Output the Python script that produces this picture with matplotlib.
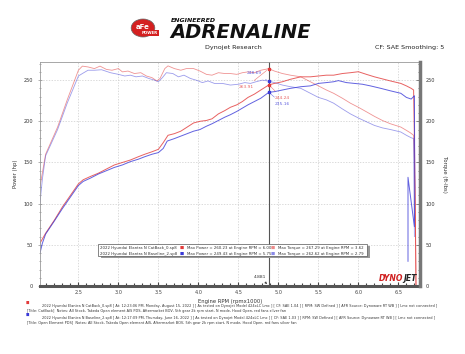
import matplotlib
matplotlib.use("Agg")
import matplotlib.pyplot as plt
from matplotlib.patches import Rectangle, Circle
from matplotlib.ticker import MultipleLocator

# ---- dados (rpm x1000) ----
rpm_tq_red = [2.02, 2.09, 2.24, 2.36, 2.5, 2.55, 2.62, 2.7, 2.77, 2.85, 2.92, 3.0, 3.05, 3.12, 3.2,
              3.28, 3.35, 3.42, 3.48, 3.52, 3.58, 3.62, 3.7, 3.78, 3.85, 3.94, 4.02, 4.1, 4.17,
              4.25, 4.33, 4.4, 4.48, 4.55, 4.62, 4.7, 4.78, 4.881, 4.95, 5.05, 5.15, 5.28, 5.4,
              5.5, 5.6, 5.69, 5.8, 5.9, 6.0, 6.11, 6.2, 6.3, 6.4, 6.53, 6.6, 6.65, 6.69, 6.7,
              6.71, 6.72]
tq_red = [121, 160, 193, 226, 262, 267, 266, 264, 267, 263, 262, 264, 260, 261, 258,
          259, 255, 253, 249, 252, 264, 267.3, 264, 262, 264, 264, 261, 257, 256,
          259, 258, 258, 257, 259, 260, 259, 262, 263.9, 261, 258, 256, 254, 248,
          243, 238, 234, 228, 222, 217, 211, 206, 201, 197, 193, 189, 186, 183, 150,
          100, 0]

rpm_tq_blue = [2.02, 2.05, 2.09, 2.24, 2.36, 2.5, 2.55, 2.62, 2.7, 2.79, 2.9, 3.0, 3.08, 3.15, 3.22,
               3.3, 3.38, 3.45, 3.5, 3.55, 3.6, 3.68, 3.75, 3.82, 3.9, 3.97, 4.05, 4.12, 4.2,
               4.3, 4.4, 4.5, 4.58, 4.65, 4.72, 4.8, 4.881, 4.95, 5.05, 5.15, 5.28, 5.4, 5.5,
               5.6, 5.69, 5.8, 5.9, 6.0, 6.11, 6.2, 6.3, 6.4, 6.53, 6.6, 6.66, 6.69, 6.695,
               6.7]
tq_blue = [101, 130, 158, 190, 222, 255, 258, 262, 262, 262.6, 259, 257, 255, 256, 254,
           255, 252, 250, 248, 253, 259, 258, 254, 256, 252, 250, 247, 249, 246,
           246, 244, 245, 247, 246, 248, 250, 248.7, 247, 244, 242, 240, 234, 229,
           226, 222, 215, 209, 204, 199, 195, 192, 190, 187, 183, 180, 179, 120,
           60]

rpm_hp_red = [2.02, 2.09, 2.2, 2.3, 2.4, 2.5, 2.56, 2.65, 2.75, 2.85, 2.95, 3.05, 3.15, 3.25, 3.33,
              3.42, 3.5, 3.56, 3.62, 3.7, 3.78, 3.86, 3.94, 4.02, 4.1, 4.17, 4.25, 4.33, 4.4,
              4.48, 4.55, 4.62, 4.7, 4.78, 4.881, 4.95, 5.05, 5.15, 5.28, 5.4, 5.5, 5.6, 5.69,
              5.8, 5.9, 6.0, 6.1, 6.2, 6.28, 6.4, 6.53, 6.6, 6.66, 6.69, 6.7, 6.71, 6.715, 6.72]
hp_red = [52, 64, 80, 96, 110, 124, 129, 133, 137, 142, 147, 150, 153, 157, 160,
          163, 166, 174, 183, 185, 188, 193, 198, 200, 201, 203, 209, 213, 217,
          220, 224, 229, 233, 238, 244.2, 246, 248, 251, 254, 254, 255, 256, 256,
          258, 259, 260.2, 257, 254, 252, 249, 246, 243, 240, 238, 180, 100, 56, 0]

rpm_hp_blue = [2.02, 2.05, 2.09, 2.2, 2.3, 2.4, 2.5, 2.56, 2.65, 2.75, 2.85, 2.95, 3.05, 3.15, 3.25,
               3.33, 3.42, 3.5, 3.56, 3.61, 3.7, 3.78, 3.86, 3.94, 4.02, 4.1, 4.17, 4.25, 4.33,
               4.4, 4.48, 4.55, 4.62, 4.7, 4.78, 4.881, 4.95, 5.05, 5.15, 5.28, 5.4, 5.5, 5.6,
               5.69, 5.75, 5.85, 5.95, 6.05, 6.15, 6.28, 6.4, 6.53, 6.6, 6.66, 6.69, 6.7,
               6.705, 6.7, 6.62, 6.62]
hp_blue = [40, 52, 63, 79, 94, 108, 122, 127, 131, 136, 140, 144, 147, 151, 154,
           157, 160, 162, 167, 176, 179, 182, 185, 188, 190, 194, 197, 201, 205,
           208, 212, 216, 220, 224, 228, 235.2, 236, 238, 240, 242, 243, 246, 247,
           248, 249.4, 247, 246, 245, 243, 240, 237, 234, 229, 227, 230, 231,
           120, 72, 132, 30]

cursor_rpm = 4.881
xticks = [2.5, 3.0, 3.5, 4.0, 4.5, 5.0, 5.5, 6.0, 6.5]
yticks = [0, 50, 100, 150, 200, 250]

runs = ["2022 Hyundai Elantra N CatBack_0.sp8", "2022 Hyundai Elantra N Baseline_2.sp8"]
max_power = ["Max Power = 260.23 at Engine RPM = 6.00", "Max Power = 249.43 at Engine RPM = 5.75"]
max_torque = ["Max Torque = 267.29 at Engine RPM = 3.62", "Max Torque = 262.62 at Engine RPM = 2.79"]
rodape = [
    "2022 Hyundai Elantra N CatBack_0.sp8 [ At: 12:23:06 PM, Monday, August 15, 2022 ] [ As tested on Dynojet Model 424xLC Lmc ] [ CF: SAE 1.04 ] [ RPM: SW Defined ] [ AFR Source: Dynoware RT WB ] [ Lmc not connected ]",
    "[Title: CatBack]  Notes: All Stock, Takeda Open element AIS PDS, Aftermarket BOV, 5th gear 2k rpm start, N mode, Hood Open, red fans silver fan",
    "2022 Hyundai Elantra N Baseline_2.sp8 [ At: 12:17:09 PM, Thursday, June 16, 2022 ] [ As tested on Dynojet Model 424xLC Lmc ] [ CF: SAE 1.03 ] [ RPM: SW Defined ] [ AFR Source: Dynoware RT WB ] [ Lmc not connected ]",
    "[Title: Open Element PDS]  Notes: All Stock, Takeda Open element AIS, Aftermarket BOV, 5th gear 2k rpm start, N mode, Hood Open, red fans silver fan",
]

W, H = 465, 354
vermelho = "#e23a3a"
azul = "#3a3ad8"

fig = plt.figure(figsize=(W / 100, H / 100), dpi=100)
fig.patch.set_facecolor("white")


def fx(px):
    return px / W


def fy(py):
    return 1 - py / H


L, R, T, B = 40, 420, 62, 286
ax = fig.add_axes([fx(L), fy(B), fx(R - L), (B - T) / H])
ax.set_xlim(2.02, 6.77)
ax.set_ylim(0, 272)

ax.plot(rpm_tq_red, tq_red, color=vermelho, lw=0.6, alpha=0.55)
ax.plot(rpm_tq_blue, tq_blue, color=azul, lw=0.6, alpha=0.5)
ax.plot(rpm_hp_red, hp_red, color=vermelho, lw=0.7, alpha=0.8)
ax.plot(rpm_hp_blue, hp_blue, color=azul, lw=0.7, alpha=0.8)

ax.axvline(cursor_rpm, color="#555555", lw=0.8)

# marcadores do cursor
cur = [(tq_blue[rpm_tq_blue.index(cursor_rpm)], azul, "248.69", (-16, 5)),
       (tq_red[rpm_tq_red.index(cursor_rpm)], vermelho, "263.91", (-22, -14)),
       (hp_red[rpm_hp_red.index(cursor_rpm)], vermelho, "244.24", (4, -10)),
       (hp_blue[rpm_hp_blue.index(cursor_rpm)], azul, "235.16", (4, -9))]
for val, cor, txt, off in cur:
    ax.plot([cursor_rpm], [val], marker="s", ms=1.8, color=cor, mec=cor)
    ax.annotate(txt, xy=(cursor_rpm, val), xytext=off, textcoords="offset points",
                fontsize=3.2, color=cor, alpha=0.8,
                arrowprops=dict(arrowstyle="-", color=cor, lw=0.4, alpha=0.7))

ax.annotate("4.881", xy=(cursor_rpm, 0), xytext=(-11, 6), textcoords="offset points",
            fontsize=3.2, color="#333333",
            arrowprops=dict(arrowstyle="-|>", color="#333333", lw=0.4, mutation_scale=3))

ax.set_xticks(xticks)
ax.set_xticklabels([f"{t:.1f}" for t in xticks])
ax.xaxis.set_minor_locator(MultipleLocator(0.1))
ax.set_yticks(yticks)
ax.yaxis.set_minor_locator(MultipleLocator(10))
ax.grid(True, which="major", color="#cccccc", ls=(0, (2, 2)), lw=0.5)
ax.tick_params(axis="x", which="both", direction="in", colors="#444444", labelsize=3.6,
               length=3, width=0.8, pad=3)
ax.tick_params(axis="x", which="minor", length=2)
ax.tick_params(axis="y", which="both", direction="inout", colors="#777777", labelsize=3.6,
               labelcolor="#333333", length=3, width=0.4)
ax.tick_params(axis="y", which="minor", length=1.5)
for s in ["top", "left"]:
    ax.spines[s].set_color("#999999")
    ax.spines[s].set_linewidth(0.6)
ax.spines["bottom"].set_color("#555555")
ax.spines["bottom"].set_linewidth(2.2)
ax.spines["right"].set_visible(False)

ax2 = ax.twinx()
ax2.set_ylim(0, 272)
ax2.set_yticks(yticks)
ax2.yaxis.set_minor_locator(MultipleLocator(10))
ax2.tick_params(axis="y", which="both", direction="in", colors="#555555", labelsize=3.6,
                labelcolor="#333333", length=3, width=0.5, pad=4)
ax2.tick_params(axis="y", which="minor", length=1.5)
ax2.spines["right"].set_color("#777777")
ax2.spines["right"].set_linewidth(2.5)
for s in ["top", "left", "bottom"]:
    ax2.spines[s].set_visible(False)

ax.set_xlabel("Engine RPM (rpmx1000)", fontsize=3.8, color="#333333", labelpad=3)
ax.set_ylabel("Power (hp)", fontsize=3.8, color="#333333", labelpad=4)
ax2.set_ylabel("Torque (ft-lbs)", fontsize=3.8, color="#333333", labelpad=5, rotation=-90,
               va="bottom")

# logo dynojet
ax.text(0.955, 0.012, "DYNO", transform=ax.transAxes, ha="right", va="bottom",
        fontsize=5.6, fontweight="bold", style="italic", color="#d02020")
ax.text(0.955, 0.012, "JET", transform=ax.transAxes, ha="left", va="bottom",
        fontsize=5.6, fontweight="bold", style="italic", color="#222222")

# caixa de legenda
fig.add_artist(Rectangle((fx(101), fy(258)), fx(269), 12 / H, transform=fig.transFigure,
                         facecolor="#999999", edgecolor="none"))
fig.add_artist(Rectangle((fx(98), fy(256)), fx(269), 12 / H, transform=fig.transFigure,
                         facecolor="white", edgecolor="#555555", lw=0.5))
for i, (cor, y) in enumerate([(vermelho, 247.5), (azul, 253.5)]):
    fig.text(fx(100), fy(y), runs[i], fontsize=2.8, va="center", color="#333333")
    fig.text(fx(180), fy(y), "\u25a0", fontsize=3.2, va="center", color=cor)
    fig.text(fx(187), fy(y), max_power[i], fontsize=2.8, va="center", color="#333333")
    fig.text(fx(271), fy(y), "\u25a0", fontsize=3.2, va="center", color=cor, alpha=0.6)
    fig.text(fx(278), fy(y), max_torque[i], fontsize=2.8, va="center", color="#333333")

# cabecalho
fig.add_artist(Circle((fx(143), fy(28)), 9 / H, transform=fig.transFigure, facecolor="#d42020",
                      edgecolor="#666666", lw=0.5))
fig.text(fx(143), fy(27), "aFe", fontsize=5, fontweight="bold", color="white",
         ha="center", va="center")
fig.text(fx(150), fy(33), "POWER", fontsize=2.8, fontweight="bold", color="white", ha="center",
         va="center", bbox=dict(boxstyle="square,pad=0.15", fc="#d42020", ec="none"))
fig.text(fx(171), fy(21), "ENGINEERED", fontsize=4.5, fontweight="bold", style="italic",
         color="#111111", va="center")
fig.text(fx(170), fy(33), "ADRENALINE", fontsize=14, fontweight="bold", style="italic",
         color="#111111", va="center")
fig.text(fx(233), fy(47), "Dynojet Research", fontsize=4.6, color="#222222", ha="center",
         va="center")
fig.text(fx(375), fy(47), "CF: SAE Smoothing: 5", fontsize=4.6, color="#222222", va="center")

# rodape
fig.text(fx(26), fy(303), "\u25a0", fontsize=2.6, color=vermelho, va="center")
fig.text(fx(26), fy(315), "\u25a0", fontsize=2.6, color=azul, va="center")
for txt, x, y in zip(rodape, [42, 27, 42, 27], [306, 311, 318, 323]):
    fig.text(fx(x), fy(y), txt, fontsize=2.55, color="#333333", va="center")

fig.savefig("out.png", dpi=100)
